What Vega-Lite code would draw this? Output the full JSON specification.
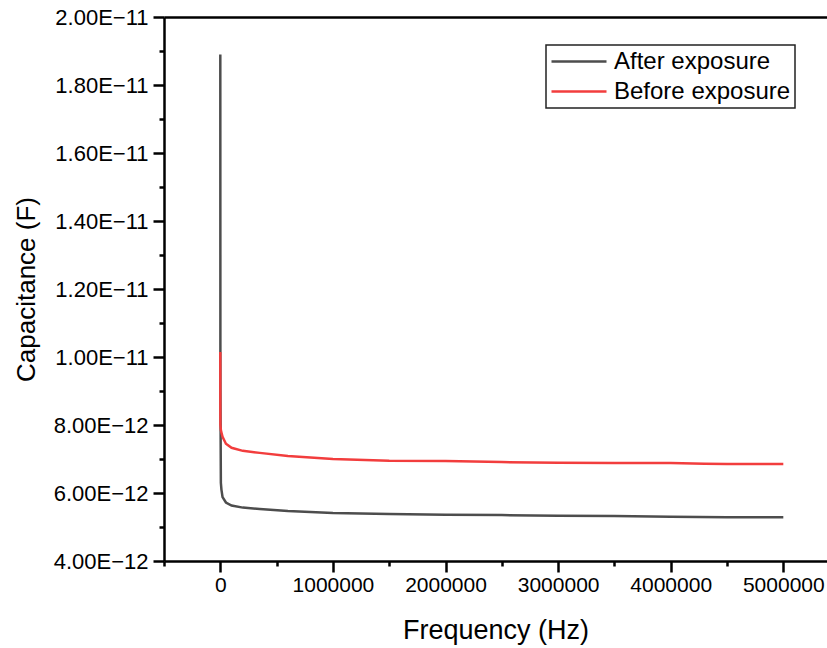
{
  "$schema": "https://vega.github.io/schema/vega-lite/v6.json",
  "autosize": "none",
  "width": 663,
  "height": 544,
  "padding": {"left": 164, "top": 17, "right": 0, "bottom": 87},
  "background": "white",
  "config": {
    "view": {"stroke": null},
    "font": "Liberation Sans",
    "axis": {"grid": false, "domainColor": "#000", "domainWidth": 2.5, "tickColor": "#000", "tickWidth": 2.5, "labelColor": "#000", "titleColor": "#000", "labelFont": "Liberation Sans", "titleFont": "Liberation Sans", "titleFontWeight": "normal"}
  },
  "data": {"values": [
    {"f": 20, "c": 1.89e-11, "s": "After exposure"},
    {"f": 1000, "c": 9.0e-12, "s": "After exposure"},
    {"f": 5000, "c": 6.3e-12, "s": "After exposure"},
    {"f": 10000, "c": 6.1e-12, "s": "After exposure"},
    {"f": 20000, "c": 5.88e-12, "s": "After exposure"},
    {"f": 50000, "c": 5.72e-12, "s": "After exposure"},
    {"f": 100000, "c": 5.63e-12, "s": "After exposure"},
    {"f": 200000, "c": 5.57e-12, "s": "After exposure"},
    {"f": 350000, "c": 5.53e-12, "s": "After exposure"},
    {"f": 600000, "c": 5.47e-12, "s": "After exposure"},
    {"f": 1000000, "c": 5.41e-12, "s": "After exposure"},
    {"f": 1500000, "c": 5.38e-12, "s": "After exposure"},
    {"f": 2000000, "c": 5.36e-12, "s": "After exposure"},
    {"f": 2500000, "c": 5.35e-12, "s": "After exposure"},
    {"f": 3000000, "c": 5.33e-12, "s": "After exposure"},
    {"f": 3500000, "c": 5.32e-12, "s": "After exposure"},
    {"f": 4000000, "c": 5.3e-12, "s": "After exposure"},
    {"f": 4500000, "c": 5.29e-12, "s": "After exposure"},
    {"f": 5000000, "c": 5.29e-12, "s": "After exposure"},
    {"f": 20, "c": 1.015e-11, "s": "Before exposure"},
    {"f": 500, "c": 8.3e-12, "s": "Before exposure"},
    {"f": 1000, "c": 8.0e-12, "s": "Before exposure"},
    {"f": 5000, "c": 7.85e-12, "s": "Before exposure"},
    {"f": 10000, "c": 7.78e-12, "s": "Before exposure"},
    {"f": 20000, "c": 7.65e-12, "s": "Before exposure"},
    {"f": 50000, "c": 7.45e-12, "s": "Before exposure"},
    {"f": 100000, "c": 7.33e-12, "s": "Before exposure"},
    {"f": 200000, "c": 7.24e-12, "s": "Before exposure"},
    {"f": 350000, "c": 7.18e-12, "s": "Before exposure"},
    {"f": 600000, "c": 7.09e-12, "s": "Before exposure"},
    {"f": 1000000, "c": 7.0e-12, "s": "Before exposure"},
    {"f": 1500000, "c": 6.95e-12, "s": "Before exposure"},
    {"f": 2000000, "c": 6.94e-12, "s": "Before exposure"},
    {"f": 2500000, "c": 6.91e-12, "s": "Before exposure"},
    {"f": 3000000, "c": 6.89e-12, "s": "Before exposure"},
    {"f": 3500000, "c": 6.88e-12, "s": "Before exposure"},
    {"f": 4000000, "c": 6.88e-12, "s": "Before exposure"},
    {"f": 4300000, "c": 6.86e-12, "s": "Before exposure"},
    {"f": 4500000, "c": 6.85e-12, "s": "Before exposure"},
    {"f": 5000000, "c": 6.85e-12, "s": "Before exposure"}
  ]},
  "resolve": {"axis": {"x": "independent", "y": "independent"}},
  "layer": [
    {
      "mark": {"type": "line", "opacity": 0},
      "encoding": {
        "x": {"field": "f", "type": "quantitative", "scale": {"domain": [-500000, 5388000], "nice": false, "zero": false},
          "axis": {"orient": "bottom", "values": [-500000, 500000, 1500000, 2500000, 3500000, 4500000], "labels": false, "tickSize": 5, "domain": false, "title": null}},
        "y": {"field": "c", "type": "quantitative", "scale": {"domain": [4e-12, 2e-11], "nice": false, "zero": false},
          "axis": {"orient": "left", "values": [5e-12, 7e-12, 9e-12, 1.1e-11, 1.3e-11, 1.5e-11, 1.7e-11, 1.9e-11], "labels": false, "tickSize": 5, "domain": false, "title": null}},
        "detail": {"field": "s"}
      }
    },
    {
      "mark": {"type": "line", "opacity": 0},
      "encoding": {
        "x": {"field": "f", "type": "quantitative", "axis": {"orient": "top", "ticks": false, "labels": false, "title": null}},
        "y": {"field": "c", "type": "quantitative", "axis": null},
        "detail": {"field": "s"}
      }
    },
    {
      "mark": {"type": "line", "strokeWidth": 2.5},
      "encoding": {
        "x": {"field": "f", "type": "quantitative",
          "axis": {"orient": "bottom", "values": [0, 1000000, 2000000, 3000000, 4000000, 5000000], "format": "d", "tickSize": 11, "labelPadding": 2, "labelFontSize": 21, "title": "Frequency (Hz)", "titleFontSize": 27, "titlePadding": 22}},
        "y": {"field": "c", "type": "quantitative",
          "axis": {"orient": "left", "values": [4e-12, 6e-12, 8e-12, 1e-11, 1.2e-11, 1.4e-11, 1.6e-11, 1.8e-11, 2e-11], "labelExpr": "replace(upper(format(datum.value, '.2e')), '-', '−')", "tickSize": 11, "labelPadding": 5, "labelFontSize": 22, "title": "Capacitance (F)", "titleFontSize": 26, "titlePadding": 14}},
        "color": {"field": "s", "type": "nominal", "scale": {"domain": ["After exposure", "Before exposure"], "range": ["#4d4d4d", "#f23d3d"]},
          "legend": {"title": null, "orient": "none", "legendX": 382, "legendY": 28, "symbolType": "M-1,0H4", "symbolSize": 484, "symbolStrokeWidth": 2.5, "symbolFillColor": "transparent", "labelFontSize": 24, "labelColor": "#000", "labelOffset": 39, "labelLimit": 400, "rowPadding": 5, "padding": 4, "strokeColor": "#222", "fillColor": "white",
            "encode": {"legend": {"update": {"strokeWidth": {"value": 1.5}}}}}}
      }
    }
  ]
}
